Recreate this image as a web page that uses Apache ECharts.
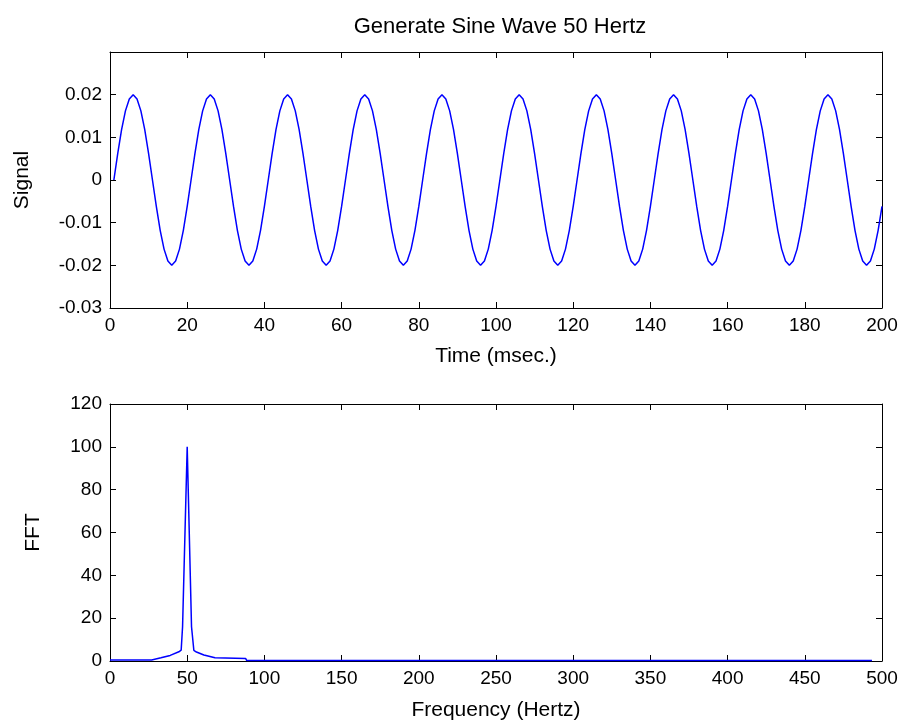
<!DOCTYPE html>
<html>
<head>
<meta charset="utf-8">
<title>Generate Sine Wave 50 Hertz</title>
<script src="https://cdn.jsdelivr.net/npm/echarts@6/dist/echarts.min.js"></script>
<style>
html,body{margin:0;padding:0;background:#fff;}
#main{width:903px;height:723px;}
</style>
</head>
<body>
<div id="main"></div>
<script>
// signal samples, 1 ms apart, first sample at t = 1 ms
var signal = [
 0, 0.0062, 0.0118, 0.0162, 0.019, 0.02, 0.019, 0.0162, 0.0118, 0.0062,
 0, -0.0062, -0.0118, -0.0162, -0.019, -0.02, -0.019, -0.0162, -0.0118, -0.0062,
 0, 0.0062, 0.0118, 0.0162, 0.019, 0.02, 0.019, 0.0162, 0.0118, 0.0062,
 0, -0.0062, -0.0118, -0.0162, -0.019, -0.02, -0.019, -0.0162, -0.0118, -0.0062,
 0, 0.0062, 0.0118, 0.0162, 0.019, 0.02, 0.019, 0.0162, 0.0118, 0.0062,
 0, -0.0062, -0.0118, -0.0162, -0.019, -0.02, -0.019, -0.0162, -0.0118, -0.0062,
 0, 0.0062, 0.0118, 0.0162, 0.019, 0.02, 0.019, 0.0162, 0.0118, 0.0062,
 0, -0.0062, -0.0118, -0.0162, -0.019, -0.02, -0.019, -0.0162, -0.0118, -0.0062,
 0, 0.0062, 0.0118, 0.0162, 0.019, 0.02, 0.019, 0.0162, 0.0118, 0.0062,
 0, -0.0062, -0.0118, -0.0162, -0.019, -0.02, -0.019, -0.0162, -0.0118, -0.0062,
 0, 0.0062, 0.0118, 0.0162, 0.019, 0.02, 0.019, 0.0162, 0.0118, 0.0062,
 0, -0.0062, -0.0118, -0.0162, -0.019, -0.02, -0.019, -0.0162, -0.0118, -0.0062,
 0, 0.0062, 0.0118, 0.0162, 0.019, 0.02, 0.019, 0.0162, 0.0118, 0.0062,
 0, -0.0062, -0.0118, -0.0162, -0.019, -0.02, -0.019, -0.0162, -0.0118, -0.0062,
 0, 0.0062, 0.0118, 0.0162, 0.019, 0.02, 0.019, 0.0162, 0.0118, 0.0062,
 0, -0.0062, -0.0118, -0.0162, -0.019, -0.02, -0.019, -0.0162, -0.0118, -0.0062,
 0, 0.0062, 0.0118, 0.0162, 0.019, 0.02, 0.019, 0.0162, 0.0118, 0.0062,
 0, -0.0062, -0.0118, -0.0162, -0.019, -0.02, -0.019, -0.0162, -0.0118, -0.0062,
 0, 0.0062, 0.0118, 0.0162, 0.019, 0.02, 0.019, 0.0162, 0.0118, 0.0062,
 0, -0.0062, -0.0118, -0.0162, -0.019, -0.02, -0.019, -0.0162, -0.0118, -0.0062
];
var fftFreq = [0, 27, 28, 33, 39, 44.6, 46.1, 47, 50, 52.8, 54.3, 56, 60.8, 68, 87.8, 88.5, 493.5];
var fftAmp  = [0.5, 0.5, 1.0, 1.5, 2.6, 4.3, 5.1, 16, 100, 16, 5, 4.2, 2.8, 1.5, 1.2, 0.25, 0.25];

var timeTicks = {min: 0, max: 200, interval: 20};
var freqTicks = {min: 0, max: 500, interval: 50};

var font = 'Liberation Sans, Arial, sans-serif';

function pairs(xs, ys){
    var out = [];
    for (var i = 0; i < ys.length; i++) out.push([xs[i], ys[i]]);
    return out;
}
var signalData = [];
for (var i = 0; i < signal.length; i++) signalData.push([i + 1, signal[i]]);

function frameAxis(grid, pos, extra, labels){
    var ax = {
        type: 'value',
        gridIndex: grid,
        position: pos,
        splitLine: {show: false},
        axisLine: {show: true, onZero: false, lineStyle: {color: '#000', width: 1}},
        axisTick: {show: true, inside: true, length: 6, lineStyle: {color: '#000'}},
        axisLabel: {show: labels, color: '#000', fontFamily: font, fontSize: 19}
    };
    for (var k in extra) ax[k] = extra[k];
    return ax;
}
var nameStyle = {fontFamily: font, fontSize: 21, color: '#000'};

var myChart = echarts.init(document.getElementById('main'));
var option = {
    backgroundColor: '#fff',
    animation: false,
    title: {
        text: 'Generate Sine Wave 50 Hertz',
        left: 495, top: 11, textAlign: 'center',
        textStyle: {fontFamily: font, fontSize: 22, fontWeight: 'normal', color: '#000'}
    },
    grid: [
        {left: 110, right: 21, top: 52, height: 256},
        {left: 110, right: 21, top: 404, height: 257}
    ],
    xAxis: [
        frameAxis(0, 'bottom', {min: timeTicks.min, max: timeTicks.max, interval: timeTicks.interval,
            name: 'Time (msec.)', nameLocation: 'middle', nameGap: 38, nameTextStyle: nameStyle}, true),
        frameAxis(0, 'top', {min: timeTicks.min, max: timeTicks.max, interval: timeTicks.interval}, false),
        frameAxis(1, 'bottom', {min: freqTicks.min, max: freqTicks.max, interval: freqTicks.interval,
            name: 'Frequency (Hertz)', nameLocation: 'middle', nameGap: 39, nameTextStyle: nameStyle}, true),
        frameAxis(1, 'top', {min: freqTicks.min, max: freqTicks.max, interval: freqTicks.interval}, false)
    ],
    yAxis: [
        frameAxis(0, 'left', {min: -0.03, max: 0.03, interval: 0.01,
            name: 'Signal', nameLocation: 'middle', nameGap: 77, nameTextStyle: nameStyle}, true),
        frameAxis(0, 'right', {min: -0.03, max: 0.03, interval: 0.01}, false),
        frameAxis(1, 'left', {min: 0, max: 120, interval: 20,
            name: 'FFT', nameLocation: 'middle', nameGap: 66, nameTextStyle: nameStyle}, true),
        frameAxis(1, 'right', {min: 0, max: 120, interval: 20}, false)
    ],
    series: [
        {
            type: 'line', xAxisIndex: 0, yAxisIndex: 0,
            data: signalData, showSymbol: false, silent: true,
            lineStyle: {color: '#0000ff', width: 1.5}
        },
        {
            type: 'line', xAxisIndex: 2, yAxisIndex: 2,
            data: pairs(fftFreq, fftAmp), showSymbol: false, silent: true,
            lineStyle: {color: '#0000ff', width: 1.5}
        }
    ]
};
option.yAxis[0].axisLabel.showMaxLabel = false;
myChart.setOption(option);
</script>
</body>
</html>
